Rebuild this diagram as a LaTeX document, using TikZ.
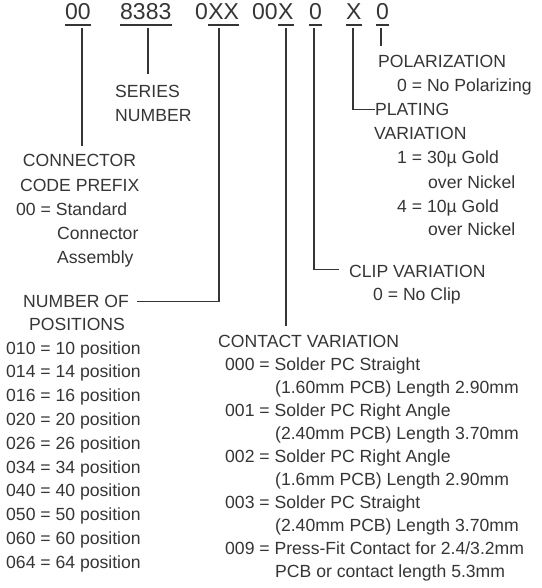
\documentclass[tikz,border=0pt]{standalone}
\usepackage{fontspec}
\setmainfont{Liberation Sans}
\definecolor{ink}{HTML}{353535}
\begin{document}
\begin{tikzpicture}[x=1pt,y=-1pt,
  txt/.style={inner sep=0pt,anchor=base west,text=ink,font=\fontsize{17.6}{20}\selectfont},
  ctxt/.style={txt,anchor=base},
  big/.style={inner sep=0pt,anchor=base west,text=ink,font=\fontsize{23}{26}\selectfont},
  conn/.style={draw=ink,line width=1.1pt},
  uline/.style={draw=ink,line width=1.3pt}]
\useasboundingbox (0,0) rectangle (541,588);

% ---- top part number ----
\node[big] (p1) at (65,20) {00};
\node[big] (p2) at (120,20) {8383};
\node[big] (p3a) at (195,20) {0};
\node[big] (p3) at (p3a.base east) {XX};
\node[big] (p4a) at (252,20) {00};
\node[big] (p4) at (p4a.base east) {X};
\node[big] (p5) at (309,20) {0};
\node[big] (p6) at (346,20) {X};
\node[big] (p7) at (376,20) {0};
\foreach \n in {p1,p2,p3,p4,p5,p6,p7}
  \draw[uline] ([yshift=-5pt]\n.base west) -- ([yshift=-5pt]\n.base east);

% ---- labels ----
% series
\node[txt] (ser) at (115,98) {SERIES};
\node[txt] (ser2) at (115,122) {NUMBER};
% connector code prefix
\node[ctxt] (con) at (79.5,167) {CONNECTOR};
\node[ctxt] (con2) at (79.7,191) {CODE PREFIX};
\node[txt] (con3) at (16,215) {00 = Standard};
\node[txt] (con4) at (57,239) {Connector};
\node[txt] (con5) at (57,263) {Assembly};
% number of positions
\node[ctxt] (pos) at (76,307) {NUMBER OF};
\node[ctxt] (pos2) at (77,330) {POSITIONS};
\foreach \a/\b [count=\i from 0] in {010/10,014/14,016/16,020/20,026/26,034/34,040/40,050/50,060/60,064/64}{
  \pgfmathsetmacro{\yy}{354+23.8*\i}
  \path (6,\yy) node[txt] (posl\i) {\a\ = \b\ position};
}
% contact variation
\node[txt] (cv) at (218,347) {CONTACT VARIATION};
\node[txt] (cv1) at (225,370) {000 = Solder PC Straight};
\node[txt] (cv1b) at (275,393) {(1.60mm PCB) Length 2.90mm};
\node[txt] (cv2) at (225,416) {001 = Solder PC Right Angle};
\node[txt] (cv2b) at (275,439) {(2.40mm PCB) Length 3.70mm};
\node[txt] (cv3) at (225,462) {002 = Solder PC Right Angle};
\node[txt] (cv3b) at (275,485) {(1.6mm PCB) Length 2.90mm};
\node[txt] (cv4) at (225,508) {003 = Solder PC Straight};
\node[txt] (cv4b) at (275,531) {(2.40mm PCB) Length 3.70mm};
\node[txt] (cv5) at (225,554) {009 = Press-Fit Contact for 2.4/3.2mm};
\node[txt] (cv5b) at (275,577) {PCB or contact length 5.3mm};
% clip variation
\node[txt] (clip) at (349,277) {CLIP VARIATION};
\node[txt] (clip2) at (373,300) {0 = No Clip};
% plating variation
\node[txt] (pl) at (375,116) {PLATING};
\node[txt] (pl2) at (374,140) {VARIATION};
\node[txt] (pl3) at (397,164) {1 = 30µ Gold};
\node[txt] (pl4) at (428,188) {over Nickel};
\node[txt] (pl5) at (397,212) {4 = 10µ Gold};
\node[txt] (pl6) at (428,235) {over Nickel};
% polarization
\node[txt] (po) at (378,68) {POLARIZATION};
\node[txt] (po2) at (397,92) {0 = No Polarizing};

% ---- connectors ----
\coordinate (c1) at (82,28);
\coordinate (c2) at (148,28);
\coordinate (c3) at (219,28);
\coordinate (c4) at (286,28);
\coordinate (c5) at (314,28);
\coordinate (c6) at (353,28);
\coordinate (c7) at (381,28);
\draw[conn,shorten >=9pt] (c1) -- (c1 |- con.north);
\draw[conn,shorten >=12pt] (c2) -- (c2 |- ser.north);
\draw[conn] (c3) |- ([xshift=8pt,yshift=-1pt]pos.east);
\draw[conn,shorten >=9pt] (c4) -- (c4 |- cv.north);
\draw[conn] (c5) |- ([xshift=-10pt,yshift=1pt]clip.west);
\draw[conn] (c6) |- (pl.west);
\draw[conn,shorten >=10pt] (c7) -- (c7 |- po.north);
\end{tikzpicture}
\end{document}
